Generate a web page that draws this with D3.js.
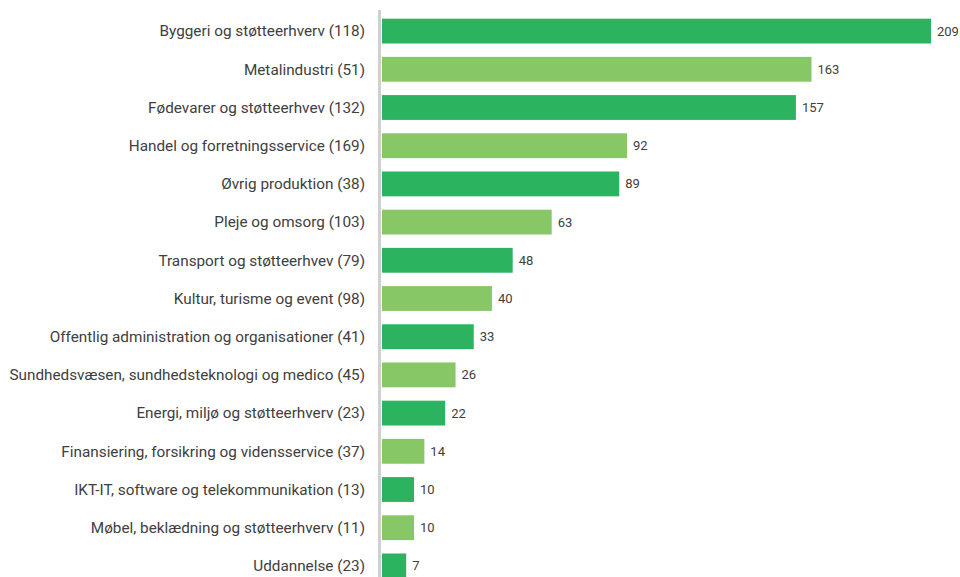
<!DOCTYPE html>
<html>
<head>
<meta charset="utf-8">
<script src="https://cdn.jsdelivr.net/npm/d3@7"></script>
<style>
  body { margin: 0; background: #fff; }
  text { font-family: Roboto, "DejaVu Sans", sans-serif; fill: #404040; }
</style>
</head>
<body>
<svg id="svg" width="960" height="577"></svg>
<script>
// categories (top to bottom) and values
var labels = ["Byggeri og støtteerhverv (118)", "Metalindustri (51)", "Fødevarer og støtteerhvev (132)",
  "Handel og forretningsservice (169)", "Øvrig produktion (38)", "Pleje og omsorg (103)",
  "Transport og støtteerhvev (79)", "Kultur, turisme og event (98)",
  "Offentlig administration og organisationer (41)", "Sundhedsvæsen, sundhedsteknologi og medico (45)",
  "Energi, miljø og støtteerhverv (23)", "Finansiering, forsikring og vidensservice (37)",
  "IKT-IT, software og telekommunikation (13)", "Møbel, beklædning og støtteerhverv (11)", "Uddannelse (23)"];
var values = [209, 163, 157, 92, 89, 63, 48, 40, 33, 26, 22, 14, 10, 10, 7];
var colors = ["#2bb35f", "#88c765"];

var svg = d3.select("#svg");
var axisX = 379.5;

var x = d3.scaleLinear().domain([0, 209]).range([388, 931]);
var y = d3.scaleBand().domain(labels).range([12, 585]).paddingInner(0.35).paddingOuter(0.175);

// bars
svg.selectAll("rect.bar").data(values).enter().append("rect")
  .attr("class", "bar")
  .attr("x", axisX + 2.5)
  .attr("y", function(d, i) { return y(labels[i]); })
  .attr("width", function(d) { return x(d) - axisX - 2.5; })
  .attr("height", y.bandwidth())
  .attr("fill", function(d, i) { return colors[i % 2]; });

// vertical axis line
svg.append("line")
  .attr("x1", axisX).attr("x2", axisX)
  .attr("y1", 10).attr("y2", 577)
  .attr("stroke", "#d0d0d0").attr("stroke-width", 3);

// category labels
svg.selectAll("text.cat").data(labels).enter().append("text")
  .attr("class", "cat")
  .attr("x", 365)
  .attr("y", function(d) { return y(d) + y.bandwidth() / 2; })
  .attr("dy", "0.35em")
  .attr("text-anchor", "end")
  .style("font-size", "15.3px")
  .text(function(d) { return d; });

// value labels
svg.selectAll("text.val").data(values).enter().append("text")
  .attr("class", "val")
  .attr("x", function(d) { return x(d) + 6; })
  .attr("y", function(d, i) { return y(labels[i]) + y.bandwidth() / 2; })
  .attr("dy", "0.35em")
  .style("font-size", "13px")
  .text(function(d) { return d; });
</script>
</body>
</html>
